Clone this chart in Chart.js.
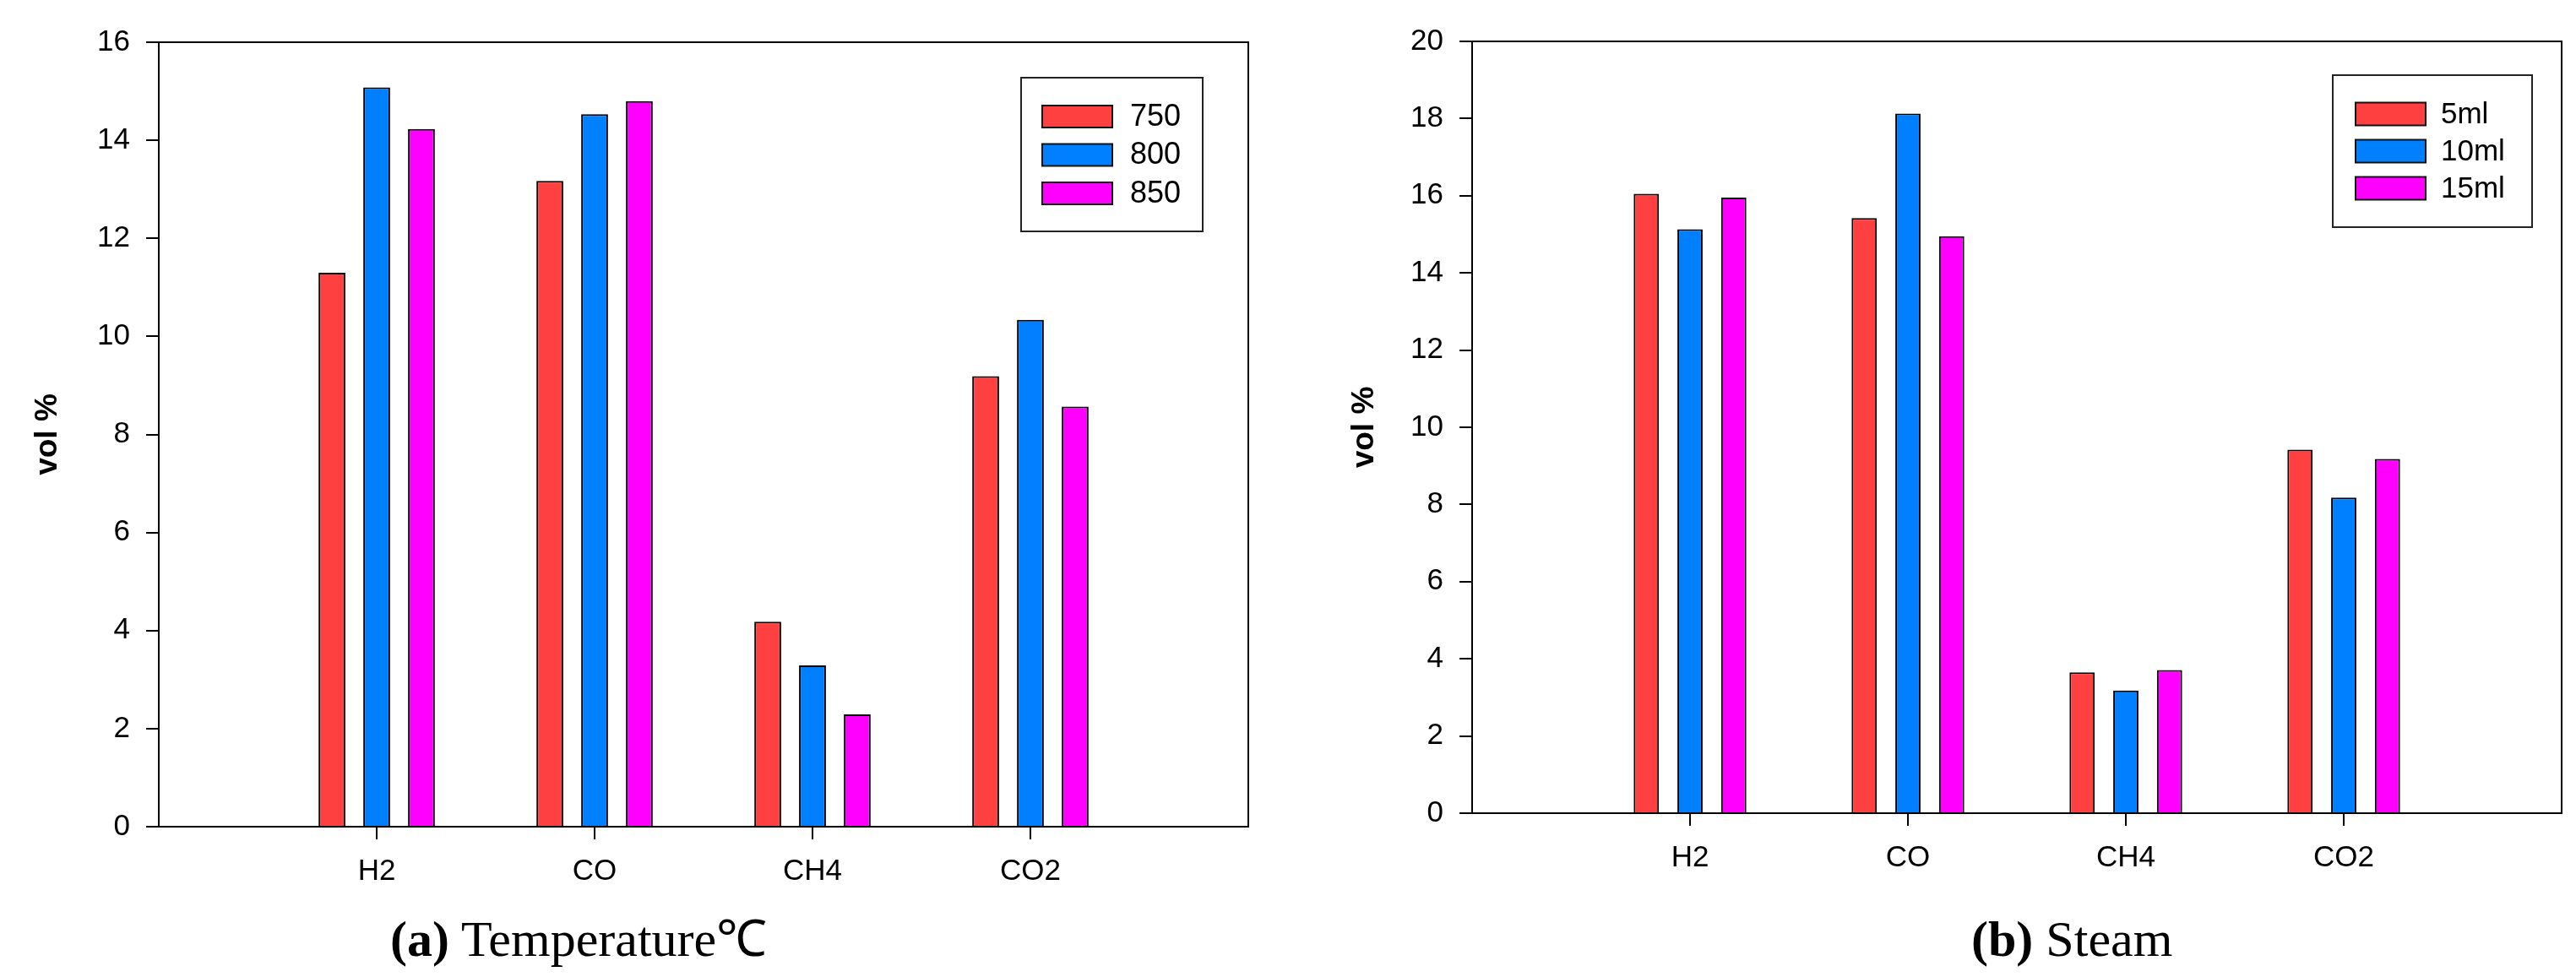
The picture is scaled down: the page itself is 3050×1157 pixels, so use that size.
<!DOCTYPE html>
<html>
<head>
<meta charset="utf-8">
<script src="https://cdn.jsdelivr.net/npm/chart.js@4.4.1/dist/chart.umd.min.js"></script>
<style>
  body { margin: 0; background: #fff; width: 3050px; height: 1157px; position: relative; overflow: hidden; }
  canvas { position: absolute; top: 0; }
  .cap { position: absolute; top: 1082px; font-family: "Liberation Serif", "Times New Roman", serif; font-size: 60px; line-height: 60px; color: #000; white-space: nowrap; }
</style>
</head>
<body>
<canvas id="chartA" width="1525" height="1157" style="left:0px"></canvas>
<canvas id="chartB" width="1525" height="1157" style="left:1525px"></canvas>
<div class="cap" style="left:462px"><b>(a)</b> Temperature℃</div>
<div class="cap" style="left:2334px"><b>(b)</b> Steam</div>
<script>
// gases on the x axis
const gases = ['H2', 'CO', 'CH4', 'CO2'];

// (a) temperature series
const tempLabels = ['750', '800', '850'];
const t750 = [11.3, 13.17, 4.18, 9.19];
const t800 = [15.08, 14.53, 3.29, 10.34];
const t850 = [14.23, 14.8, 2.29, 8.57];

// (b) steam series
const steamLabels = ['5ml', '10ml', '15ml'];
const s5 = [16.05, 15.42, 3.65, 9.42];
const s10 = [15.13, 18.13, 3.18, 8.18];
const s15 = [15.95, 14.95, 3.71, 9.18];

const ticksA = [0, 2, 4, 6, 8, 10, 12, 14, 16];
const ticksB = [0, 2, 4, 6, 8, 10, 12, 14, 16, 18, 20];

const barColors = ['#FF4040', '#0080FF', '#FF00FF'];
const FONT = '"Liberation Sans", Arial, sans-serif';

// empty slot before and after the gases, like the original axis
const pad = arr => [null, ...arr, null];

// top / right frame and the boxed legend
const framePlugin = {
  id: 'frameLegend',
  afterDraw(chart, args, opts) {
    const ctx = chart.ctx;
    const a = chart.chartArea;
    ctx.save();
    ctx.strokeStyle = '#000';
    ctx.lineWidth = 2;
    ctx.beginPath();
    ctx.moveTo(a.left, a.top);
    ctx.lineTo(a.right, a.top);
    ctx.lineTo(a.right, a.bottom);
    ctx.stroke();

    const bx = a.right - opts.right;
    const by = a.top + opts.top;
    ctx.strokeStyle = '#222';
    ctx.strokeRect(bx, by, opts.w, opts.h);
    ctx.font = opts.fontSize + 'px ' + FONT;
    ctx.textBaseline = 'middle';
    chart.data.datasets.forEach((ds, i) => {
      const cy = by + opts.row0 + i * opts.rowStep;
      ctx.fillStyle = ds.backgroundColor;
      ctx.fillRect(bx + opts.sx, cy - opts.sh / 2, opts.sw, opts.sh);
      ctx.strokeStyle = '#111';
      ctx.strokeRect(bx + opts.sx, cy - opts.sh / 2, opts.sw, opts.sh);
      ctx.fillStyle = '#000';
      ctx.fillText(ds.label, bx + opts.tx, cy + 1);
    });
    ctx.restore();
  }
};

function makeChart(id, names, series, yTicks, g) {
  return new Chart(id, {
    type: 'bar',
    data: {
      labels: ['', ...gases, ''],
      datasets: series.map((s, i) => ({
        label: names[i],
        data: pad(s),
        backgroundColor: barColors[i],
        borderColor: '#000',
        borderWidth: 2,
        borderSkipped: 'bottom',
        categoryPercentage: g.catPct,
        barPercentage: g.barPct
      }))
    },
    options: {
      responsive: false,
      animation: false,
      layout: { padding: { left: 0, right: g.padRight, top: g.padTop, bottom: g.padBottom } },
      plugins: {
        legend: { display: false },
        tooltip: { enabled: false },
        frameLegend: g.legend
      },
      scales: {
        x: {
          offset: false,
          grid: {
            offset: false,
            drawOnChartArea: false,
            tickLength: 15,
            lineWidth: 2,
            color: c => (c.index === 0 || c.index === gases.length + 1) ? 'rgba(0,0,0,0)' : '#000'
          },
          border: { display: true, color: '#000', width: 2 },
          ticks: { color: '#000', font: { family: FONT, size: 35 }, padding: 17, maxRotation: 0, autoSkip: false },
          afterFit: s => { s.height = 80; }
        },
        y: {
          min: yTicks[0],
          max: yTicks[yTicks.length - 1],
          afterBuildTicks: s => { s.ticks = yTicks.map(v => ({ value: v })); },
          grid: { drawOnChartArea: false, tickLength: 15, lineWidth: 2, color: '#000' },
          border: { display: true, color: '#000', width: 2 },
          ticks: { color: '#000', font: { family: FONT, size: 35 }, padding: 19 },
          title: {
            display: true,
            text: 'vol %',
            color: '#000',
            font: { family: FONT, size: 37, weight: 'bold' },
            padding: { top: g.titlePad, bottom: 0 }
          },
          afterFit: s => { s.width = g.yWidth; }
        }
      }
    },
    plugins: [framePlugin]
  });
}

makeChart('chartA', tempLabels, [t750, t800, t850], ticksA, {
  catPct: 0.616, barPct: 0.6,
  padRight: 47, padTop: 50, padBottom: 98,
  yWidth: 188, titlePad: 35,
  legend: { right: 269, top: 42, w: 215, h: 182, sx: 25, sw: 83, sh: 26, row0: 46, rowStep: 45.5, tx: 129, fontSize: 36 }
});

makeChart('chartB', steamLabels, [s5, s10, s15], ticksB, {
  catPct: 0.602, barPct: 0.577,
  padRight: 12, padTop: 49, padBottom: 114,
  yWidth: 218, titlePad: 69,
  legend: { right: 271, top: 40, w: 236, h: 180, sx: 27, sw: 83, sh: 27, row0: 46, rowStep: 44, tx: 128, fontSize: 35 }
});
</script>
</body>
</html>
